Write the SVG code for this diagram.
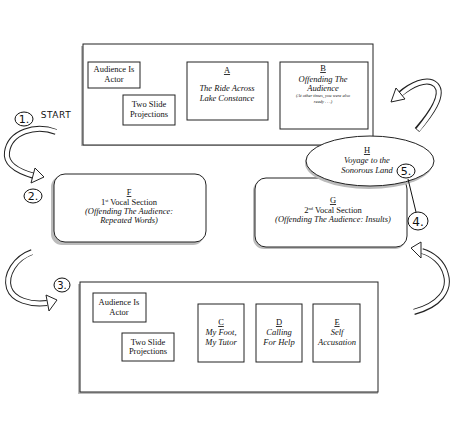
<svg xmlns="http://www.w3.org/2000/svg" width="450" height="423" viewBox="0 0 450 423">
<style>
.frame{fill:#fff;stroke:#222;stroke-width:1}
.box{fill:#fff;stroke:#222;stroke-width:1}
.shade{fill:#bbb;stroke:none}
.t{font-family:"Liberation Serif","Times New Roman","DejaVu Serif",serif;font-size:8.5px;fill:#111;text-anchor:middle}
.i{font-style:italic}
.s{font-size:4.5px}
.u{text-decoration:underline}
.hand{font-family:"DejaVu Sans",sans-serif;fill:#111;text-anchor:middle}
.ring{fill:#fff;stroke:#111;stroke-width:1}
.arr-o{fill:none;stroke:#222;stroke-width:6;stroke-linecap:butt}
.arr-i{fill:none;stroke:#fff;stroke-width:4;stroke-linecap:butt}
.head{fill:#fff;stroke:#222;stroke-width:1;stroke-linejoin:miter}
</style>
<rect width="450" height="423" fill="#fff"/>

<g id="top-frame">
  <rect class="shade" x="81" y="46" width="5" height="100"/>
  <rect class="shade" x="81" y="143" width="292" height="3"/>
  <rect class="frame" x="83" y="44" width="290" height="101"/>
  <g id="top-audience">
    <rect class="box" x="88" y="62" width="52" height="26"/>
    <text class="t" x="114" y="72">Audience Is</text>
    <text class="t" x="114" y="82">Actor</text>
  </g>
  <g id="top-slides">
    <rect class="box" x="123" y="95" width="52" height="30"/>
    <text class="t" x="149" y="107">Two Slide</text>
    <text class="t" x="149" y="117">Projections</text>
  </g>
  <g id="A">
    <rect class="box" x="187" y="62" width="81" height="58"/>
    <text class="t u" x="227" y="73">A</text>
    <text class="t i" x="227" y="91">The Ride Across</text>
    <text class="t i" x="227" y="100.5">Lake Constance</text>
  </g>
  <g id="B">
    <rect class="box" x="280" y="62" width="88" height="67"/>
    <text class="t u" x="323" y="71">B</text>
    <text class="t i" x="323" y="81.5">Offending The</text>
    <text class="t i" x="323" y="91">Audience</text>
    <text class="t i s" x="323" y="97">(At other times, you were also</text>
    <text class="t i s" x="323" y="102.5">ready . . .)</text>
  </g>
</g>

<g id="F">
  <rect class="shade" x="51" y="176" width="153" height="69" rx="11"/>
  <rect class="box" x="54" y="174" width="152" height="68" rx="11"/>
  <text class="t u" x="129" y="195">F</text>
  <text class="t" x="129" y="204.5">1<tspan font-size="4.5" dy="-3">st</tspan><tspan dy="3"> Vocal Section</tspan></text>
  <text class="t i" x="129" y="214" font-size="6.3">(Offending The Audience:</text>
  <text class="t i" x="129" y="222.5" font-size="6.3">Repeated Words)</text>
</g>

<g id="G">
  <rect class="shade" x="253" y="180" width="153" height="69" rx="11"/>
  <rect class="box" x="255" y="178" width="152" height="69" rx="11"/>
  <text class="t u" x="333" y="203">G</text>
  <text class="t" x="333" y="212.5">2<tspan font-size="4.5" dy="-3">nd</tspan><tspan dy="3"> Vocal Section</tspan></text>
  <text class="t i" x="333" y="222" font-size="6">(Offending The Audience: Insults)</text>
</g>

<g id="H">
  <ellipse class="shade" cx="369" cy="163" rx="64" ry="26"/>
  <ellipse class="box" cx="370" cy="161" rx="64" ry="25"/>
  <text class="t u" x="367" y="153">H</text>
  <text class="t i" x="367" y="163">Voyage to the</text>
  <text class="t i" x="367" y="173">Sonorous Land</text>
</g>

<g id="bottom-frame">
  <rect class="shade" x="78" y="284" width="5" height="110"/>
  <rect class="shade" x="78" y="391" width="300" height="3"/>
  <rect class="frame" x="80" y="282" width="298" height="110"/>
  <g id="bottom-audience">
    <rect class="box" x="93" y="293" width="53" height="29"/>
    <text class="t" x="119" y="305">Audience Is</text>
    <text class="t" x="119" y="314.5">Actor</text>
  </g>
  <g id="bottom-slides">
    <rect class="box" x="122" y="333" width="52" height="28"/>
    <text class="t" x="148" y="344.5">Two Slide</text>
    <text class="t" x="148" y="354">Projections</text>
  </g>
  <g id="C">
    <rect class="box" x="198" y="304" width="46" height="58"/>
    <text class="t u" x="221" y="325">C</text>
    <text class="t i" x="221" y="334.5">My Foot,</text>
    <text class="t i" x="221" y="344.5">My Tutor</text>
  </g>
  <g id="D">
    <rect class="box" x="256" y="304" width="46" height="58"/>
    <text class="t u" x="279" y="325">D</text>
    <text class="t i" x="279" y="334.5">Calling</text>
    <text class="t i" x="279" y="344.5">For Help</text>
  </g>
  <g id="E">
    <rect class="box" x="313" y="304" width="47" height="58"/>
    <text class="t u" x="337" y="325">E</text>
    <text class="t i" x="337" y="334.5">Self</text>
    <text class="t i" x="337" y="344.5" font-size="6.5">Accusation</text>
  </g>
</g>

<g id="connectors">
  <path class="arr-o" d="M56,132 C35,124 10,132 7,152 C5,165 20,172 34,176"/>
  <path class="arr-i" d="M57,132 C35,124 10,132 7,152 C5,165 20,172 35,176"/>
  <polygon class="head" points="44,177 35,168 31,183"/>

  <path class="arr-o" d="M32,252 C15,258 5,275 9,288 C13,300 30,305 47,303"/>
  <path class="arr-i" d="M33,252 C15,258 5,275 9,288 C13,300 30,305 48,303"/>
  <polygon class="head" points="57,300 46,295 49,311"/>

  <path class="arr-o" d="M417,130 C430,115 445,95 436,85 C427,76 410,86 400,94"/>
  <path class="arr-i" d="M418,130 C430,115 445,95 436,85 C427,76 410,86 401,94"/>
  <polygon class="head" points="391,102 396,88 405,99"/>

  <path class="arr-o" d="M414,312 C440,305 450,290 446,275 C443,262 432,254 422,251"/>
  <path class="arr-i" d="M413,312 C440,305 450,290 446,275 C443,262 432,254 421,251"/>
  <polygon class="head" points="411,248 421,242 421,258"/>

  <line x1="408" y1="179" x2="416" y2="212" stroke="#111" stroke-width="1"/>
</g>

<g id="step1">
  <ellipse class="ring" cx="24" cy="119" rx="9" ry="7"/>
  <text class="hand" x="24" y="123" font-size="11">1.</text>
  <text class="hand" x="56" y="118" font-size="9" letter-spacing="0.5">START</text>
</g>
<g id="step2">
  <ellipse class="ring" cx="33" cy="196" rx="9" ry="7"/>
  <text class="hand" x="33" y="200" font-size="11">2.</text>
</g>
<g id="step3">
  <ellipse class="ring" cx="62" cy="285" rx="8" ry="7"/>
  <text class="hand" x="62" y="289" font-size="10">3.</text>
</g>
<g id="step4">
  <ellipse class="ring" cx="418" cy="221" rx="10" ry="9"/>
  <text class="hand" x="418" y="226" font-size="12">4.</text>
</g>
<g id="step5">
  <ellipse class="ring" cx="406" cy="171" rx="9" ry="7"/>
  <text class="hand" x="406" y="175" font-size="11">5.</text>
</g>
</svg>
